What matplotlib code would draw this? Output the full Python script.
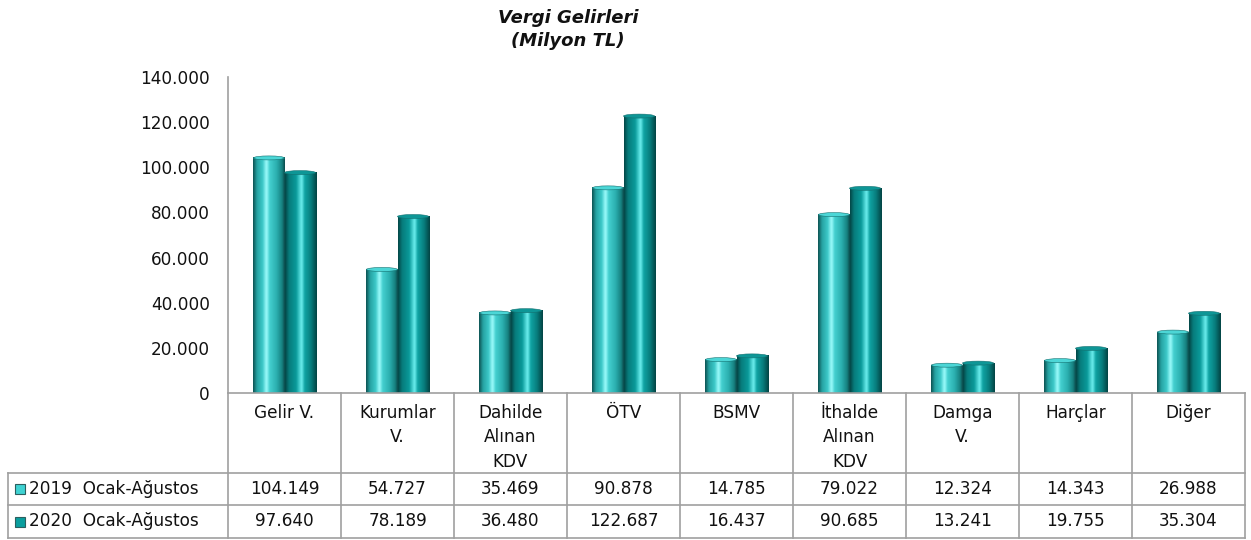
import numpy as np
import matplotlib.pyplot as plt
from matplotlib.colors import LinearSegmentedColormap
from matplotlib.patches import Ellipse, Rectangle
from matplotlib.transforms import blended_transform_factory

plt.rcParams['font.family'] = ['DejaVu Sans']

# data (Milyon TL)
categories = ["Gelir V.", "Kurumlar\nV.", "Dahilde\nAlınan\nKDV", "ÖTV", "BSMV",
              "İthalde\nAlınan\nKDV", "Damga\nV.", "Harçlar", "Diğer"]
series_names = ["2019  Ocak-Ağustos", "2020  Ocak-Ağustos"]
vals_2019 = [104149, 54727, 35469, 90878, 14785, 79022, 12324, 14343, 26988]
vals_2020 = [97640, 78189, 36480, 122687, 16437, 90685, 13241, 19755, 35304]
yticks = [0, 20000, 40000, 60000, 80000, 100000, 120000, 140000]


def tr_fmt(v):
    return f"{int(v):,}".replace(",", ".")


# cylinder-like shading for each series
cmap19 = LinearSegmentedColormap.from_list("c19", [
    (0.0, "#0d5454"), (0.12, "#26a3a3"), (0.3, "#3cc8c8"), (0.42, "#9ffcfc"),
    (0.52, "#45d0d0"), (0.75, "#2aaeae"), (0.92, "#16807f"), (1.0, "#0b4b4b")])
cmap20 = LinearSegmentedColormap.from_list("c20", [
    (0.0, "#044646"), (0.12, "#077b7b"), (0.35, "#0a9a9a"), (0.52, "#6ef0f0"),
    (0.62, "#10a3a3"), (0.82, "#087e7e"), (1.0, "#034444")])

fig = plt.figure(figsize=(12.51, 5.40), dpi=100)
W, H = 1251, 540
ax = fig.add_axes([228 / W, 1 - 393 / H, (1245 - 228) / W, (393 - 77) / H])

x = np.arange(len(categories))
bw = 0.275
grad = np.linspace(0, 1, 64).reshape(1, -1)
px_per_unit = (393 - 77) / 140000.0
cap_h = 4 / px_per_unit
txt_c = "#111111"

for vals, off, cm, capc in [(vals_2019, -bw / 2, cmap19, "#4cd6d6"),
                           (vals_2020, bw / 2, cmap20, "#0e9696")]:
    bars = ax.bar(x + off, vals, width=bw, facecolor="none", edgecolor="none")
    for b in bars:
        x0, w, h = b.get_x(), b.get_width(), b.get_height()
        ax.imshow(grad, cmap=cm, extent=[x0, x0 + w, 0, h], aspect="auto",
                  zorder=2, interpolation="bicubic")
        ax.add_patch(Ellipse((x0 + w / 2, h), w, cap_h, facecolor=capc,
                             edgecolor="#137070", linewidth=0.4, zorder=3))

ax.set_xlim(-0.5, len(categories) - 0.5)
ax.set_ylim(0, 140000)
ax.set_yticks(yticks)
ax.set_yticklabels([tr_fmt(t) for t in yticks], fontsize=12.2, color=txt_c)
ax.tick_params(axis="y", length=0, pad=13)
ax.set_xticks([])
for s in ["top", "right"]:
    ax.spines[s].set_visible(False)
for s in ["left", "bottom"]:
    ax.spines[s].set_color("#a0a0a0")
    ax.spines[s].set_linewidth(1.2)

fig.text(568 / W, 1 - 18 / H, "Vergi Gelirleri", ha="center", va="center",
         fontsize=13, fontweight="bold", fontstyle="italic", color=txt_c)
fig.text(568 / W, 1 - 41 / H, "(Milyon TL)", ha="center", va="center",
         fontsize=13, fontweight="bold", fontstyle="italic", color=txt_c)

# data table under the axis
tr = blended_transform_factory(ax.transData, fig.transFigure)
lc = "#a0a0a0"
y_top, y_r1, y_r2, y_bot = [1 - v / H for v in (393, 473, 505, 538)]
for k in range(len(categories) + 1):
    ax.plot([k - 0.5, k - 0.5], [y_top, y_bot], transform=tr, color=lc, lw=1.2,
            clip_on=False)
for yy in (y_r1, y_r2, y_bot):
    fig.add_artist(plt.Line2D([8 / W, 1245 / W], [yy, yy], color=lc, lw=1.2))
fig.add_artist(plt.Line2D([8 / W, 8 / W], [y_r1, y_bot], color=lc, lw=1.2))

for i, c in enumerate(categories):
    ax.text(i, 1 - 404 / H, c, transform=tr, ha="center", va="top",
            fontsize=12.2, linespacing=1.45, color=txt_c)

row_y = [(y_r1 + y_r2) / 2, (y_r2 + y_bot) / 2]
key_cols = ["#3fd2d2", "#0a9e9e"]
for r, vals in enumerate([vals_2019, vals_2020]):
    for i, v in enumerate(vals):
        ax.text(i, row_y[r], tr_fmt(v), transform=tr, ha="center", va="center",
                fontsize=12.2, color=txt_c)
    fig.add_artist(Rectangle((15 / W, row_y[r] - 5 / H), 10 / W, 10 / H,
                             facecolor=key_cols[r], edgecolor="#2c5f5f", lw=0.8))
    fig.text(29 / W, row_y[r], series_names[r], ha="left", va="center",
             fontsize=12.2, color=txt_c)

fig.savefig("out.png", dpi=100)
